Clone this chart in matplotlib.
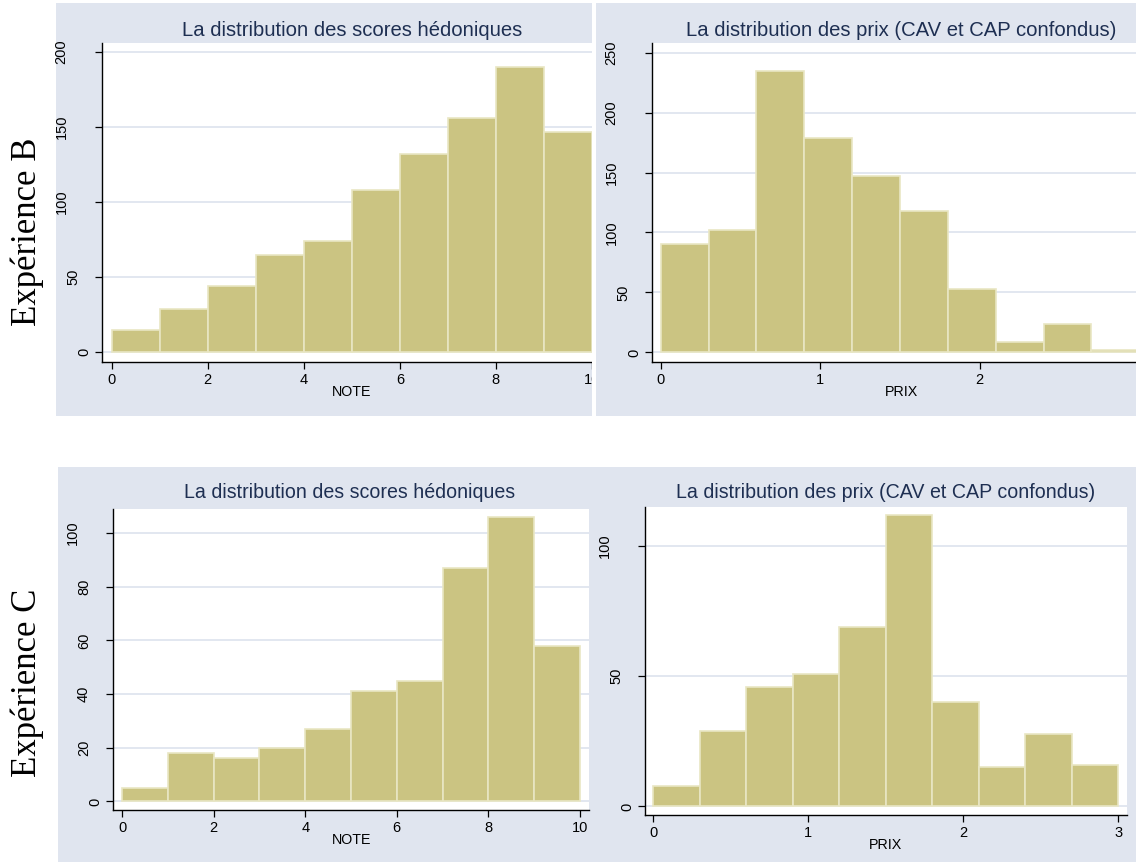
import numpy as np
import matplotlib
matplotlib.use("Agg")
import matplotlib.pyplot as plt
from matplotlib.patches import Rectangle

# histogram counts
note_edges = np.arange(0, 11, 1)
prix_edges = np.round(np.arange(0, 3.01, 0.3), 2)

note_B = [15, 29, 44, 65, 74, 108, 132, 156, 190, 147]
prix_B = [90, 102, 235, 179, 147, 118, 53, 9, 24, 2]
note_C = [5, 18, 16, 20, 27, 41, 45, 87, 106, 58]
prix_C = [8, 29, 46, 51, 69, 112, 40, 15, 28, 16]

title_note = "La distribution des scores hédoniques"
title_prix = "La distribution des prix (CAV et CAP confondus)"
row_labels = ["Expérience B", "Expérience C"]

W, H = 1136, 865
BG = "#e0e5ef"
BAR = "#cbc482"
BAR_EDGE = "#e9e6c3"
GRID = "#dde3ee"
TITLE = "#1e2f52"
PX = 72 / 100  # pixels -> points

plt.rcParams['font.family'] = ['Liberation Sans', 'DejaVu Sans']

fig = plt.figure(figsize=(W / 100, H / 100), dpi=100)
fig.patch.set_facecolor("white")


def fbox(l, t, r, b):
    return [l / W, 1 - b / H, (r - l) / W, (b - t) / H]


def bg(l, t, r, b, color, z):
    fig.patches.append(Rectangle((l / W, 1 - b / H), (r - l) / W, (b - t) / H,
                                 transform=fig.transFigure, facecolor=color,
                                 edgecolor="none", zorder=z))


def panel(rect, edges, counts, xlim, ylim, xticks, yticks, z):
    ax = fig.add_axes(fbox(*rect), zorder=z)
    ax.set_facecolor("white")
    w = edges[1] - edges[0]
    for yv in yticks:
        ax.axhline(yv, color=GRID, lw=1.2, zorder=0)
    ax.bar(edges[:-1], counts, width=w, align="edge", color=BAR,
           edgecolor=BAR_EDGE, linewidth=1.2, zorder=2)
    ax.set_xlim(*xlim)
    ax.set_ylim(*ylim)
    ax.set_xticks(xticks)
    ax.set_yticks(yticks)
    ax.set_yticklabels([])
    # stata style rotated labels: longer labels sit further left
    for yv in yticks:
        lab = str(yv)
        ax.annotate(lab, xy=(0, yv), xycoords=("axes fraction", "data"),
                    xytext=(-(6 + 11.5 * len(lab)) * PX, 0), textcoords="offset points",
                    rotation=90, ha="center", va="center", fontsize=10.5)
    for s in ["top", "right"]:
        ax.spines[s].set_visible(False)
    for s in ["left", "bottom"]:
        ax.spines[s].set_linewidth(1.0)
    ax.tick_params(length=5, width=0.9, labelsize=10.5, pad=3)
    return ax


# backgrounds, drawn in order so the right panels cover overflow from the left ones
bg(56, 3, 592, 416, BG, 0.1)
bg(58, 467, 592, 862, BG, 0.1)
ax1 = panel((102, 43, 592, 362), note_edges, note_B, (-0.2, 10), (-6.5, 206),
            [0, 2, 4, 6, 8, 10], [0, 50, 100, 150, 200], 0.5)
ax3 = panel((113, 509, 589, 810), note_edges, note_C, (-0.2, 10.2), (-3.2, 109),
            [0, 2, 4, 6, 8, 10], [0, 20, 40, 60, 80, 100], 0.5)
bg(592, 0, 596, 420, "white", 1)
bg(596, 3, 1136, 416, BG, 1)
bg(592, 467, 1136, 862, BG, 1)
ax2 = panel((652, 43, 1136, 362), prix_edges, prix_B, (-0.055, 2.98), (-8, 258),
            [0, 1, 2], [0, 50, 100, 150, 200, 250], 2)
ax4 = panel((645, 507, 1127, 815), prix_edges, prix_C, (-0.052, 3.056), (-3.3, 115),
            [0, 1, 2, 3], [0, 50, 100], 2)


def ftext(x, y, s, **kw):
    fig.text(x / W, 1 - y / H, s, ha="center", va="center", zorder=5, **kw)


ftext(352, 30, title_note, fontsize=14.6, color=TITLE)
ftext(901, 30, title_prix, fontsize=14.6, color=TITLE)
ftext(350, 493, title_note, fontsize=14.1, color=TITLE)
ftext(886, 493, title_prix, fontsize=14.1, color=TITLE)

ftext(352, 392, "NOTE", fontsize=10.3, color="black")
ftext(901, 392, "PRIX", fontsize=10.3, color="black")
ftext(352, 840, "NOTE", fontsize=10.3, color="black")
ftext(886, 845, "PRIX", fontsize=10.3, color="black")

ftext(27, 232, row_labels[0], fontsize=25, rotation=90,
      family=['Liberation Serif', 'DejaVu Serif'])
ftext(27, 683, row_labels[1], fontsize=25, rotation=90,
      family=['Liberation Serif', 'DejaVu Serif'])

fig.savefig("out.png", dpi=100)
